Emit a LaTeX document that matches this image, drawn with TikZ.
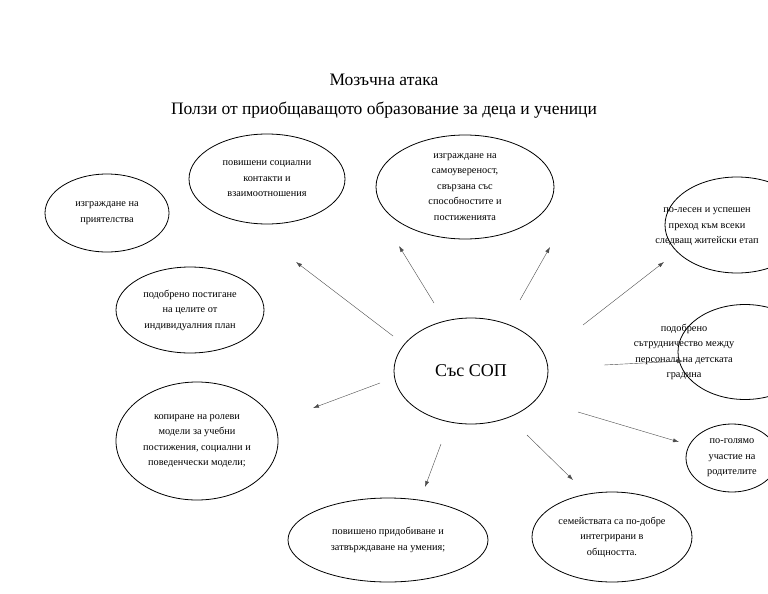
\documentclass[tikz,border=0pt]{standalone}
\usepackage{fontspec}
\setmainfont{Liberation Serif}
\usetikzlibrary{shapes.geometric,arrows.meta}
\tikzset{%
	bubble/.style = {draw, ellipse, thick, inner sep=0pt, align=center, font=\fontsize{10.3}{15.5}\selectfont},
	word/.style   = {align=center, font=\fontsize{10.3}{15.5}\selectfont},
	arrow/.style  = {draw=black!70, -{Latex[length=6pt,width=4pt]}},
}
\begin{document}
\begin{tikzpicture}[x=1pt,y=-1pt]
		\useasboundingbox (0,0) rectangle (768,594);
		\clip (0,0) rectangle (768,594);
		
		\node[font=\fontsize{17.5}{20}\selectfont] (title) at (384,80) {Мозъчна атака};
		\node[font=\fontsize{17.5}{20}\selectfont] (subtitle) at (384,110) {Ползи от приобщаващото образование за деца и ученици};
		
		\node[bubble, minimum width=154, minimum height=106, font=\fontsize{18}{22}\selectfont] (sop) at (471,371) {Със СОП};
		
		\node[bubble, minimum width=124, minimum height=78] (friends) at (107,213) {изграждане на\\приятелства};
		\node[bubble, minimum width=156, minimum height=90] (social) at (267,179) {повишени социални\\контакти и\\взаимоотношения};
		\node[bubble, minimum width=178, minimum height=104] (confidence) at (465,187) {изграждане на\\самоувереност,\\свързана със\\способностите и\\постиженията};
		\node[bubble, minimum width=144, minimum height=96] (transition) at (737,225) {};
		\node[word] (transitiontext) at (707,227) {по-лесен и успешен\\преход към всеки\\следващ житейски етап};
		\node[bubble, minimum width=134, minimum height=95] (staff) at (745,352) {};
		\node[word] (stafftext) at (684,352) {подобрено\\сътрудничество между\\персонала на детската\\градина};
		\node[bubble, minimum width=148, minimum height=86] (goals) at (190,310) {подобрено постигане\\на целите от\\индивидуалния план};
		\node[bubble, minimum width=162, minimum height=118] (roles) at (197,441) {копиране на ролеви\\модели за учебни\\постижения, социални и\\поведенчески модели;};
		\node[bubble, minimum width=200, minimum height=84] (skills) at (388,540) {повишено придобиване и\\затвърждаване на умения;};
		\node[bubble, minimum width=160, minimum height=90] (families) at (612,537) {семействата са по-добре\\интегрирани в\\общността.};
		\node[bubble, minimum width=92, minimum height=68] (parents) at (732,458) {по-голямо\\участие на\\родителите};
		
		% arrow ends
		\coordinate (s1) at (393,336); \coordinate (e1) at (296,262);
		\coordinate (s2) at (434,303); \coordinate (e2) at (399,246);
		\coordinate (s3) at (520,300); \coordinate (e3) at (550,247);
		\coordinate (s4) at (583,325); \coordinate (e4) at (664,262);
		\coordinate (s5) at (604,365); \coordinate (e5) at (683,361);
		\coordinate (s6) at (380,383); \coordinate (e6) at (313,408);
		\coordinate (s7) at (441,444); \coordinate (e7) at (425,487);
		\coordinate (s8) at (527,435); \coordinate (e8) at (573,480);
		\coordinate (s9) at (578,412); \coordinate (e9) at (679,442);
		
		\foreach \i in {1,...,9} \draw[arrow] (s\i) -- (e\i);
\end{tikzpicture}
\end{document}
